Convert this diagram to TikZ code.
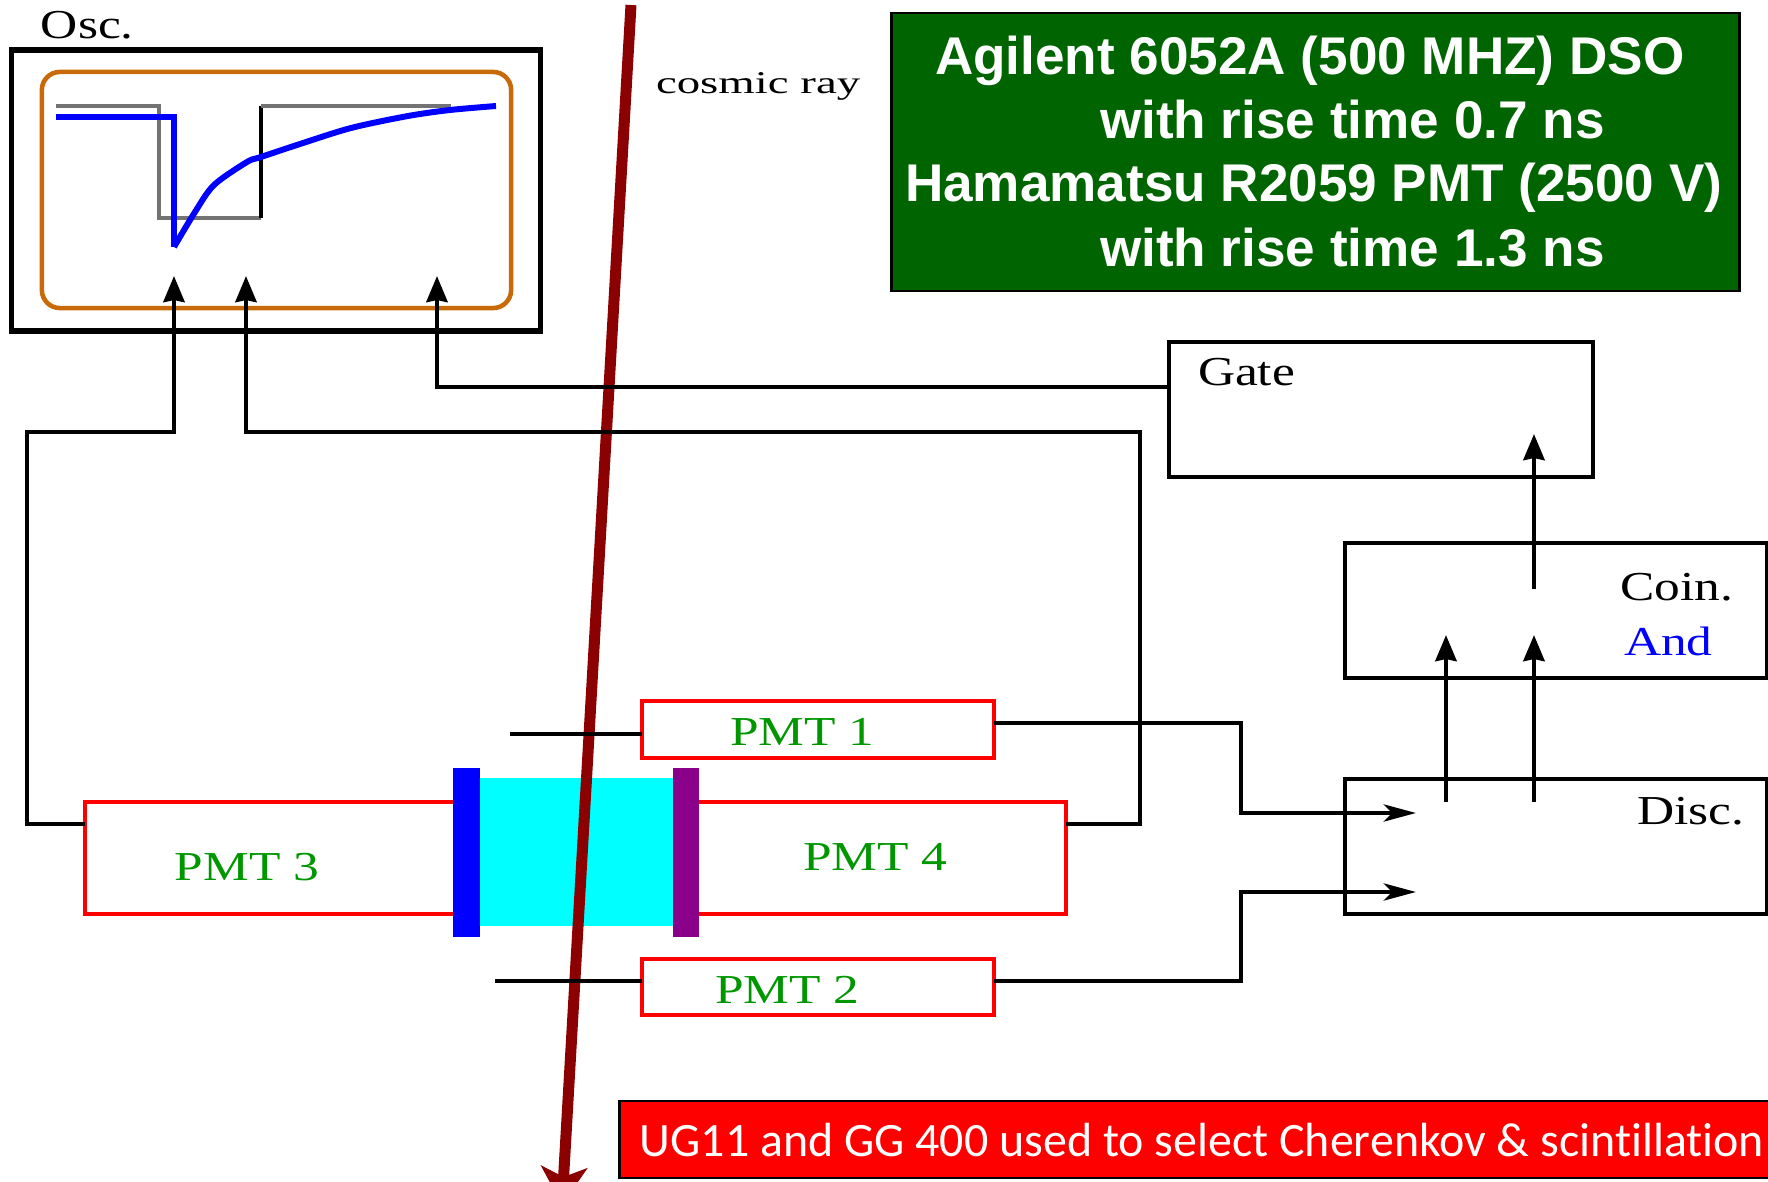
\documentclass[tikz,border=0pt]{standalone}
\usepackage{fontspec}
\usetikzlibrary{arrows.meta}
\newfontfamily\labelfont[FakeStretch=1.25]{Liberation Serif}
\newfontfamily\rayfont[FakeStretch=1.48]{Liberation Serif}
\newfontfamily\specfont{Liberation Sans}
\newfontfamily\filterfont[Ligatures=NoCommon]{Carlito}
\definecolor{scopeorange}{RGB}{200,105,10}
\definecolor{raydark}{RGB}{139,0,0}
\definecolor{specgreen}{RGB}{0,100,0}
\definecolor{pmtgreen}{RGB}{0,150,0}
\definecolor{barpurple}{RGB}{139,0,139}
\definecolor{scintcyan}{RGB}{0,255,255}
\tikzset{
	box/.style={draw,line width=1.3pt,inner sep=0pt,outer sep=0pt},
	pmt/.style={draw=red,fill=white,line width=1.3pt,inner sep=0pt,outer sep=0pt},
	bar/.style={inner sep=0pt,outer sep=0pt},
	lab/.style={anchor=base west,inner sep=0pt,outer sep=0pt,font=\labelfont\fontsize{11.7}{12}\selectfont},
	pmtlab/.style={lab,text=pmtgreen},
	spec/.style={anchor=base west,inner sep=0pt,outer sep=0pt,text=white,font=\specfont\bfseries\fontsize{15.1}{16}\selectfont},
	wire/.style={line width=1.3pt,line join=miter},
	upwire/.style={wire,-{Stealth[length=.26cm,width=.21cm,inset=.02cm]}},
	inwire/.style={wire,-{Stealth[length=.32cm,width=.17cm,inset=.08cm]}}
}
\begin{document}
\begin{tikzpicture}[x=0.01cm,y=-0.01cm]
	\path[use as bounding box,clip] (0,0) rectangle (1768,1182);
	\fill[white] (0,0) rectangle (1768,1182);
	% oscilloscope
	\node[box,line width=1.5pt,minimum width=5.28cm,minimum height=2.81cm] (osc) at (276,190.5) {};
	\node[draw=scopeorange,line width=1.3pt,rounded corners=.18cm,inner sep=0pt,outer sep=0pt,minimum width=4.69cm,minimum height=2.36cm] (screen) at (276.5,190) {};
	\node[lab] (osclab) at (41,39) {Osc.};
	\draw[gray!90!black,line width=1.3pt] (56,106) -| (159,218) -- (261,218);
	\draw[line width=1pt] (261,218) -- (261,106);
	\draw[gray!90!black,line width=1.3pt] (261,106) -- (451,106);
	\draw[blue,line width=1.7pt] (56,117) -- (174,117) -- (174,247);
	\draw[blue,line width=1.7pt] plot[smooth,tension=.5] coordinates {(174,247) (195,212) (214,185) (247,162) (261,157) (300,144) (351,128) (408,116) (450,110) (496,106)};
	% scintillator and bars
	\node[pmt,minimum width=3.81cm,minimum height=1.12cm] (pmtthree) at (275.5,858) {};
	\node[pmt,minimum width=3.8cm,minimum height=1.12cm] (pmtfour) at (876,858) {};
	\node[bar,fill=scintcyan,minimum width=1.93cm,minimum height=1.48cm] (scint) at (576.5,852) {};
	\coordinate (rayin) at (631,5);
	\coordinate (rayout) at (562,1205);
	\draw[raydark,line width=.11cm,-{Stealth[length=.38cm,width=.46cm,inset=.1cm]}] (rayin) -- (rayout);
	\node[bar,fill=blue,minimum width=.27cm,minimum height=1.69cm] (bluebar) at (466.5,852.5) {};
	\node[bar,fill=barpurple,minimum width=.26cm,minimum height=1.69cm] (purplebar) at (686,852.5) {};
	\node[pmt,minimum width=3.52cm,minimum height=.57cm] (pmtone) at (818,729.5) {};
	\node[pmt,minimum width=3.52cm,minimum height=.56cm] (pmttwo) at (818,987) {};
	\node[pmtlab] (pmtonelab) at (730,745) {PMT 1};
	\node[pmtlab] (pmttwolab) at (715,1004) {PMT 2};
	\node[pmtlab] (pmtthreelab) at (175,880) {PMT 3};
	\node[pmtlab] (pmtfourlab) at (803,870) {PMT 4};
	% electronics
	\node[box,minimum width=4.24cm,minimum height=1.35cm] (gate) at (1381,409.5) {};
	\node[box,minimum width=4.22cm,minimum height=1.35cm] (coin) at (1556,610.5) {};
	\node[box,minimum width=4.22cm,minimum height=1.35cm] (disc) at (1556,846.5) {};
	\node[lab] (gatelab) at (1198,386) {Gate};
	\node[lab] (coinlab) at (1620,601) {Coin.};
	\node[lab,text=blue] (andlab) at (1624,656) {And};
	\node[lab] (disclab) at (1637,825) {Disc.};
	\node[lab,font=\rayfont\fontsize{9}{10}\selectfont] (raylab) at (656,94) {cosmic ray};
	% wiring
	\coordinate (threeout) at (pmtthree.west |- 0,824);
	\coordinate (fourout) at (pmtfour.east |- 0,824);
	\coordinate (gateout) at (gate.west |- 0,387);
	\coordinate (oneout) at (pmtone.east |- 0,723);
	\coordinate (twoout) at (pmttwo.east |- 0,981);
	\coordinate (onestub) at (510,734);
	\coordinate (twostub) at (495,981);
	\coordinate (oscone) at (174,276);
	\coordinate (osctwo) at (246,276);
	\coordinate (oscthree) at (437,276);
	\coordinate (gatein) at (1534,434);
	\coordinate (coinout) at (1534,589);
	\coordinate (coinleft) at (1446,635);
	\coordinate (coinright) at (1534,635);
	\coordinate (discleft) at (1446,802);
	\coordinate (discright) at (1534,802);
	\coordinate (discone) at (1416,813);
	\coordinate (disctwo) at (1416,892);
	\draw[upwire] (threeout) -- (27,824) -- (27,432) -| (oscone);
	\draw[upwire] (fourout) -- (1140,824) -- (1140,432) -| (osctwo);
	\draw[upwire] (gateout) -| (oscthree);
	\draw[upwire] (coinout) -- (gatein);
	\draw[upwire] (discleft) -- (coinleft);
	\draw[upwire] (discright) -- (coinright);
	\draw[inwire] (oneout) -| (1241,813) -- (discone);
	\draw[inwire] (twoout) -| (1241,892) -- (disctwo);
	\draw[wire] (onestub) -- (pmtone.west |- onestub);
	\draw[wire] (twostub) -- (pmttwo.west |- twostub);
	% text panels
	\node[fill=specgreen,draw=black,line width=.8pt,inner sep=0pt,outer sep=0pt,minimum width=8.47cm,minimum height=2.78cm] (specbox) at (1315.5,152) {};
	\node[spec] (specone) at (935,75) {Agilent 6052A (500 MHZ) DSO};
	\node[spec] (spectwo) at (1100,139) {with rise time 0.7 ns};
	\node[spec] (specthree) at (905,202) {Hamamatsu R2059 PMT (2500 V)};
	\node[spec] (specfour) at (1100,267) {with rise time 1.3 ns};
	\node[fill=red,draw=black,line width=.8pt,inner sep=0pt,outer sep=0pt,minimum width=11.6cm,minimum height=.77cm] (filterbox) at (1200,1139.5) {};
	\node[anchor=base west,inner sep=0pt,text=white,font=\filterfont\fontsize{13.63}{15}\selectfont] (filterlab) at (639,1156) {UG11 and GG 400 used to select Cherenkov \& scintillation};
\end{tikzpicture}
\end{document}
